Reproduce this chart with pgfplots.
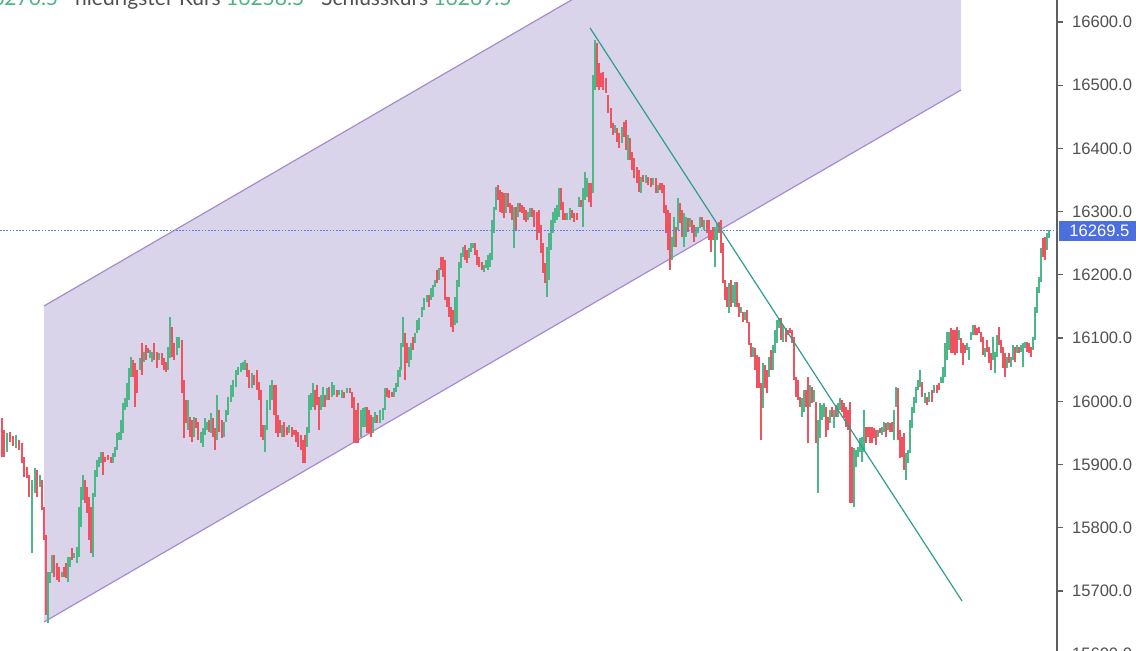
\documentclass[border=0pt]{standalone}
\usepackage{pgfplots}
\pgfplotsset{compat=1.18}
\usepackage{pgfplotstable}
\usepackage{fontspec}
\setmainfont{Lato}
\newfontfamily\tickfont{Liberation Sans}
\definecolor{chanfill}{HTML}{DAD4EB}
\definecolor{chanline}{HTML}{A78BCF}
\definecolor{trend}{HTML}{2E9E8C}
\definecolor{cred}{HTML}{EF5360}
\definecolor{cgreen}{HTML}{4CB88A}
\definecolor{dotblue}{HTML}{5B7BE8}
\definecolor{boxblue}{HTML}{4C6FE0}
\definecolor{axgray}{HTML}{5F5F5F}
\definecolor{labgray}{HTML}{505050}
\definecolor{hgray}{HTML}{505050}
\definecolor{hgreen}{HTML}{4DB384}

\pgfplotstableread{
x l h
2 15912 15974
4 15912 15955
10 15936 15952
13 15929 15945
19 15923 15939
22 15903 15934
24 15880 15912
27 15879 15896
29 15849 15884
37 15849 15891
42 15828 15876
44 15781 15833
46 15662 15789
54 15722 15757
57 15717 15744
59 15714 15738
64 15722 15738
66 15721 15744
72 15749 15768
85 15839 15876
87 15823 15865
89 15781 15849
91 15760 15833
103 15884 15920
105 15904 15912
108 15907 15915
111 15903 15912
133 16039 16065
135 15991 16061
137 16013 16050
142 16042 16092
146 16065 16089
148 16077 16084
154 16065 16092
157 16053 16078
162 16058 16077
164 16050 16069
166 16047 16062
172 16070 16118
174 16065 16092
182 16013 16097
184 15942 16034
186 15966 16002
190 15944 15975
192 15936 15971
196 15958 15974
198 15939 15967
209 15952 15971
213 15944 15974
215 15923 15958
219 15952 15986
222 15942 15971
247 16039 16061
249 16021 16050
254 16026 16042
257 16018 16050
259 16002 16031
261 15944 16018
263 15939 15963
274 15978 16026
276 15950 16026
278 15944 15978
280 15950 15971
284 15944 15967
287 15947 15960
292 15944 15960
294 15947 15955
296 15936 15955
298 15928 15952
301 15923 15947
303 15903 15939
305 15903 15947
315 15986 16018
317 15994 16026
319 15955 16007
325 15991 16010
329 16002 16023
337 16007 16018
344 16005 16015
350 16013 16021
352 15990 16015
354 15934 16007
356 15934 15986
358 15934 15997
367 15950 15991
369 15950 15986
371 15944 15978
377 15966 15978
387 16007 16021
389 16005 16018
392 16007 16015
405 16034 16108
407 16061 16092
413 16081 16102
429 16149 16168
437 16187 16208
441 16208 16228
443 16197 16228
445 16160 16224
447 16149 16165
449 16134 16165
451 16118 16149
453 16110 16145
465 16224 16247
467 16219 16240
475 16232 16251
477 16216 16240
479 16213 16228
482 16208 16220
498 16319 16342
500 16300 16334
502 16298 16331
504 16290 16330
508 16308 16330
510 16298 16314
512 16287 16311
516 16271 16308
520 16300 16314
522 16298 16311
524 16287 16308
526 16284 16303
532 16292 16306
534 16276 16303
537 16255 16300
539 16266 16303
541 16235 16279
543 16203 16251
545 16187 16219
561 16303 16338
563 16287 16315
565 16287 16298
572 16290 16303
574 16284 16298
577 16287 16298
581 16308 16319
589 16315 16345
591 16308 16345
597 16497 16567
599 16493 16535
601 16497 16519
603 16493 16521
606 16488 16512
608 16456 16485
611 16432 16464
613 16421 16440
617 16410 16432
619 16401 16425
624 16418 16442
626 16398 16445
630 16382 16417
632 16366 16395
634 16353 16385
637 16345 16371
639 16331 16366
643 16347 16358
648 16342 16355
651 16339 16353
656 16330 16353
660 16334 16345
662 16330 16345
664 16298 16342
666 16266 16311
668 16240 16303
670 16208 16298
676 16244 16276
680 16282 16314
682 16260 16303
688 16268 16290
692 16266 16287
694 16252 16279
702 16276 16292
707 16266 16287
709 16255 16287
711 16236 16271
713 16255 16276
719 16266 16284
721 16235 16287
723 16187 16251
725 16160 16192
727 16149 16181
731 16149 16192
737 16149 16189
739 16134 16156
743 16126 16141
747 16124 16145
749 16089 16126
751 16070 16092
755 16050 16084
757 16021 16073
759 16021 16070
761 15939 16029
765 16021 16058
767 16013 16050
771 16050 16081
781 16097 16132
786 16094 16116
788 16105 16113
790 16108 16116
792 16092 16113
794 16034 16102
796 16007 16039
798 16002 16034
800 15991 16007
806 15991 16018
808 15934 16039
812 15997 16023
816 15934 15999
826 15944 15991
828 15955 15975
832 15975 15991
836 15975 15994
842 15983 16002
844 15974 15997
846 15960 15991
848 15955 15986
850 15839 15999
852 15839 15928
866 15934 15960
868 15944 15960
870 15934 15960
872 15934 15960
874 15942 15958
876 15931 15955
880 15950 15958
886 15944 15966
890 15952 15966
892 15952 15967
898 15939 16021
900 15910 15955
902 15912 15944
904 15891 15950
922 16007 16031
927 15994 16007
932 15999 16018
937 16013 16026
939 16018 16029
951 16077 16116
953 16077 16113
955 16073 16113
957 16077 16118
961 16077 16100
963 16058 16092
965 16077 16089
975 16105 16121
977 16105 16116
979 16108 16118
981 16094 16110
983 16073 16102
987 16078 16097
989 16061 16086
991 16050 16077
999 16089 16118
1001 16077 16097
1003 16053 16086
1005 16039 16077
1009 16061 16077
1015 16062 16086
1019 16077 16086
1027 16078 16094
1029 16077 16092
1031 16070 16086
1043 16228 16258
1045 16224 16260
}\redtab

\pgfplotstableread{
x l h
7 15920 15950
16 15926 15947
32 15760 15876
35 15855 15895
40 15865 15884
48 15649 15730
50 15713 15730
52 15729 15757
62 15722 15730
68 15714 15754
70 15738 15754
74 15752 15760
77 15744 15770
79 15754 15833
81 15801 15865
83 15844 15884
93 15754 15855
95 15849 15891
97 15880 15907
99 15896 15912
101 15903 15920
113 15903 15918
115 15912 15928
117 15923 15950
119 15939 15952
121 15939 15971
123 15950 15997
125 15986 16005
127 15991 16029
129 16002 16053
131 16039 16070
140 16050 16069
144 16062 16078
150 16069 16081
152 16062 16078
159 16065 16077
168 16050 16086
170 16069 16134
177 16073 16102
179 16084 16102
188 15955 16002
194 15944 15975
201 15934 15952
203 15928 15958
205 15947 15974
207 15955 15967
211 15950 15982
217 15939 16010
224 15944 15967
226 15967 15986
228 15978 16007
231 15999 16026
233 16007 16034
236 16023 16050
238 16042 16054
241 16047 16061
243 16050 16062
245 16050 16065
252 16021 16045
265 15920 15963
267 15955 16002
270 15986 16026
272 16002 16034
282 15944 15963
289 15950 15963
307 15928 15960
309 15950 16010
311 15986 16013
313 15991 16029
321 15986 16010
323 15991 16023
327 16002 16021
332 16007 16031
334 16010 16026
339 16010 16018
342 16005 16018
347 16013 16021
361 15944 15986
363 15960 15990
365 15960 15991
373 15950 15975
375 15966 15983
380 15966 15986
383 15971 15990
385 15986 16021
394 16007 16021
396 16015 16029
398 16023 16050
400 16039 16054
401 16050 16092
403 16086 16134
409 16054 16086
411 16065 16092
415 16092 16108
417 16108 16129
419 16113 16132
422 16133 16149
424 16145 16164
427 16157 16168
431 16160 16179
433 16165 16184
435 16181 16192
439 16192 16211
455 16121 16165
457 16124 16192
459 16181 16220
461 16211 16235
463 16228 16244
469 16227 16243
471 16236 16251
473 16243 16251
484 16205 16216
486 16211 16224
488 16208 16232
490 16213 16235
492 16224 16287
494 16266 16308
496 16303 16339
506 16298 16330
514 16243 16308
518 16292 16314
528 16287 16300
530 16292 16306
547 16165 16244
549 16192 16266
551 16240 16287
553 16266 16300
555 16282 16306
557 16287 16311
559 16292 16338
567 16287 16298
570 16287 16306
579 16308 16323
583 16276 16338
585 16319 16363
587 16323 16353
593 16330 16516
595 16493 16572
615 16425 16437
622 16409 16434
628 16382 16421
641 16330 16355
646 16345 16358
653 16342 16353
658 16330 16342
672 16224 16260
674 16244 16292
678 16271 16322
684 16244 16298
686 16260 16292
690 16276 16290
696 16260 16276
698 16266 16276
700 16274 16292
704 16271 16287
715 16213 16276
717 16255 16282
729 16140 16187
733 16156 16184
735 16149 16189
741 16140 16149
745 16129 16141
753 16070 16086
763 15990 16061
769 16039 16070
773 16050 16089
775 16077 16113
777 16092 16129
779 16116 16132
783 16094 16121
802 15975 16005
804 15983 16018
810 15991 16026
814 15999 16018
818 15855 15971
820 15942 15997
822 15971 15994
824 15975 15997
830 15966 15986
834 15958 15986
838 15975 15997
840 15986 16005
854 15833 15926
856 15896 15923
858 15912 15928
860 15920 15942
862 15904 15944
864 15920 15986
878 15944 15955
882 15947 15960
884 15952 15967
888 15955 15967
894 15939 15986
896 15991 16023
906 15876 15918
908 15903 15923
910 15918 15971
912 15958 15991
914 15982 16007
916 15997 16023
918 16018 16034
920 16023 16050
925 15997 16013
929 15999 16015
934 16013 16026
941 16029 16039
943 16029 16054
945 16039 16092
947 16066 16110
949 16081 16110
959 16097 16113
967 16081 16092
969 16066 16086
971 16097 16110
973 16105 16121
985 16070 16084
993 16066 16102
995 16045 16078
997 16070 16105
1007 16053 16070
1011 16054 16070
1013 16065 16089
1017 16077 16089
1021 16078 16089
1023 16054 16092
1025 16084 16094
1033 16081 16102
1035 16097 16149
1037 16140 16181
1039 16171 16197
1041 16189 16243
1047 16240 16266
1049 16258.5 16270.5
}\greentab

\begin{document}
\begin{tikzpicture}
\useasboundingbox (0,0) rectangle (568pt,325.5pt);
\clip (0,0) rectangle (568pt,325.5pt);
\begin{axis}[
  at={(0,-1.6pt)}, anchor=south west,
  scale only axis, width=528.5pt, height=327.1pt,
  xmin=0, xmax=1057, ymin=15600, ymax=16634.8,
  axis x line=none,
  axis y line*=right,
  y axis line style={draw=axgray, line width=0.8pt},
  ytick={15600,15700,...,16600},
  scaled y ticks=false,
  tick align=outside, major tick length=3pt,
  ytick style={draw=axgray, line width=0.6pt},
  yticklabel style={font=\tickfont\fontsize{8.3}{10}\selectfont, text=labgray, anchor=west, xshift=1pt},
  /pgf/number format/fixed,
  /pgf/number format/fixed zerofill,
  /pgf/number format/precision=1,
  /pgf/number format/1000 sep={},
  /pgf/number format/assume math mode=true,
]
\addplot[fill=chanfill, draw=none] coordinates {(44,16150.8) (961,16992.3) (961,16492.4) (44,15650.9)} -- cycle;
\addplot[chanline, line width=0.6pt] coordinates {(44,16150.8) (961,16992.3)};
\addplot[chanline, line width=0.6pt] coordinates {(44,15650.9) (961,16492.4)};
\addplot[cred, line width=0.8pt, -, quiver={u=0, v=\thisrow{h}-\thisrow{l}}] table[x=x, y=l] \redtab;
\addplot[cgreen, line width=0.8pt, -, quiver={u=0, v=\thisrow{h}-\thisrow{l}}] table[x=x, y=l] \greentab;
\addplot[trend, line width=0.6pt] coordinates {(590,16590.7) (962,15684.2)};
\addplot[dotblue, line width=0.5pt, dash pattern=on 0.8pt off 0.8pt] coordinates {(0,16269.5) (1057,16269.5)};
\coordinate (lab) at (axis cs:1057,16269.5);
\end{axis}
\node[fill=boxblue, text=white, anchor=west, inner xsep=5pt, inner ysep=0pt, minimum height=9.6pt,
  font=\tickfont\fontsize{8.3}{10}\selectfont] at ([xshift=1pt]lab) {16269.5};
\node[anchor=base east, inner sep=0pt, font=\fontsize{10.5}{12}\selectfont] at (256pt,322.5pt)
  {{\color{hgray}höchster Kurs }{\color{hgreen}16270.5}\hspace{8.5pt}{\color{hgray}niedrigster Kurs }{\color{hgreen}16258.5}\hspace{8.5pt}{\color{hgray}Schlusskurs }{\color{hgreen}16269.5}};
\end{tikzpicture}
\end{document}
